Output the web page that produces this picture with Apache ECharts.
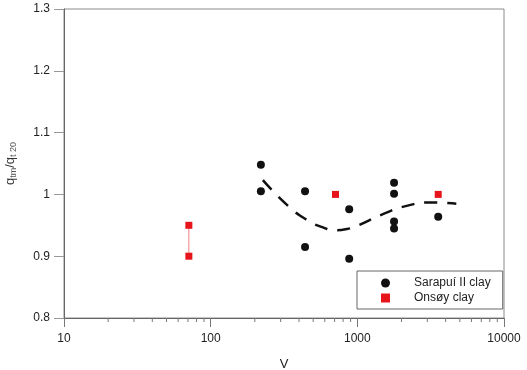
<!DOCTYPE html>
<html>
<head>
<meta charset="utf-8">
<script src="https://cdn.jsdelivr.net/npm/echarts@6/dist/echarts.min.js"></script>
<style>
  html, body { margin: 0; padding: 0; background: #fff; }
  #chart { width: 527px; height: 370px; }
</style>
</head>
<body>
<div id="chart"></div>
<script>
// Sarapuí II clay measurements [V, q_tm/q_t20]
const sarapuiV = [220, 220, 440, 440, 880, 880, 1780, 1780, 1780, 1780, 3560];
const sarapuiQ = [1.048, 1.005, 1.005, 0.915, 0.976, 0.896, 1.019, 1.001, 0.956, 0.945, 0.964];

// Onsøy clay measurements
const onsoyV = [71, 71, 710, 3560];
const onsoyQ = [0.95, 0.90, 1.00, 1.00];

// Range bar joining the two Onsøy points at the lowest velocity
const rangeV = [71, 71];
const rangeQ = [0.90, 0.95];

// Trend curve through the Sarapuí data
const trendV = [227, 342, 473, 577, 689, 849, 1016, 1457, 2133, 3160, 4730];
const trendQ = [1.023, 0.980, 0.956, 0.947, 0.942, 0.944, 0.950, 0.967, 0.981, 0.987, 0.985];

// Axis settings
const xTicks = [10, 100, 1000, 10000];
const yMin = 0.8, yMax = 1.3, yStep = 0.1;

// Minor ticks on the logarithmic axis (2..9 within each decade)
const minorTicks = [];
for (let d = 10; d < 10000; d *= 10) {
  for (let k = 2; k <= 9; k++) minorTicks.push(d * k);
}

const zip = (a, b) => a.map((v, i) => [v, b[i]]);

const chart = echarts.init(document.getElementById('chart'), null, { renderer: 'canvas' });
const font = 'Liberation Sans, Arial, sans-serif';

chart.setOption({
  animation: false,
  backgroundColor: '#ffffff',
  textStyle: { fontFamily: font },
  grid: {
    left: 64, right: 23, top: 9, bottom: 52,
    outerBoundsMode: 'none',
    containLabel: false,
    show: true, borderColor: '#8a8a8a', borderWidth: 1
  },
  legend: {
    orient: 'vertical',
    left: 357,
    top: 271,
    padding: [6, 12, 5, 24],
    itemWidth: 9,
    itemHeight: 9,
    itemGap: 3,
    borderColor: '#666',
    borderWidth: 1,
    textStyle: { fontSize: 12, color: '#222', fontFamily: font, padding: [0, 0, 0, 19] },
    data: [
      { name: 'Sarapuí II clay', icon: 'circle' },
      { name: 'Onsøy clay', icon: 'rect' }
    ]
  },
  xAxis: {
    type: 'log',
    logBase: 10,
    min: xTicks[0],
    max: xTicks[xTicks.length - 1],
    name: 'V',
    nameLocation: 'middle',
    nameGap: 40,
    nameTextStyle: { fontSize: 13, color: '#222', fontFamily: font },
    axisLine: { lineStyle: { color: '#666', width: 1 } },
    axisTick: { show: true, inside: false, length: 9, lineStyle: { color: '#777' } },
    axisLabel: {
      margin: 15, fontSize: 12, color: '#222', fontFamily: font,
      formatter: v => String(Math.round(v))
    },
    splitLine: { show: false }
  },
  yAxis: {
    type: 'value',
    min: yMin,
    max: yMax,
    interval: yStep,
    name: '{n|q}{s|tm}{n|/q}{s|t 20}',
    nameLocation: 'middle',
    nameGap: 46,
    nameRotate: 90,
    nameTextStyle: {
      color: '#333', fontFamily: font,
      rich: {
        n: { fontSize: 13, color: '#333', fontFamily: font },
        s: { fontSize: 9, color: '#555', fontFamily: font, verticalAlign: 'bottom', padding: [6, 0, 0, 0] }
      }
    },
    axisLine: { show: true, lineStyle: { color: '#666', width: 1 } },
    axisTick: { show: true, inside: false, length: 10, lineStyle: { color: '#999' } },
    axisLabel: {
      margin: 14, fontSize: 12, color: '#222', fontFamily: font,
      formatter: v => String(Math.round(v * 10) / 10)
    },
    splitLine: { show: false }
  },
  series: [
    {
      name: 'minor ticks',
      type: 'custom',
      silent: true,
      clip: false,
      data: minorTicks.map(v => [v, yMin]),
      renderItem: (params, api) => {
        const p = api.coord([api.value(0), api.value(1)]);
        return {
          type: 'line',
          shape: { x1: p[0], y1: p[1], x2: p[0], y2: p[1] + 4 },
          style: { stroke: '#777', lineWidth: 1 }
        };
      },
      z: 1
    },
    {
      name: 'trend',
      type: 'line',
      data: zip(trendV, trendQ),
      smooth: 0.5,
      symbol: 'none',
      lineStyle: { color: '#111', width: 2.5, type: [13, 10] },
      silent: true,
      z: 2
    },
    {
      name: 'range',
      type: 'line',
      data: zip(rangeV, rangeQ),
      symbol: 'none',
      lineStyle: { color: '#f08080', width: 1 },
      silent: true,
      z: 2
    },
    {
      name: 'Sarapuí II clay',
      type: 'scatter',
      data: zip(sarapuiV, sarapuiQ),
      symbol: 'circle',
      symbolSize: 8,
      itemStyle: { color: '#111', opacity: 1 },
      z: 3
    },
    {
      name: 'Onsøy clay',
      type: 'scatter',
      data: zip(onsoyV, onsoyQ),
      symbol: 'rect',
      symbolSize: 7,
      itemStyle: { color: '#e8141b', opacity: 1 },
      z: 3
    }
  ]
});
</script>
</body>
</html>
